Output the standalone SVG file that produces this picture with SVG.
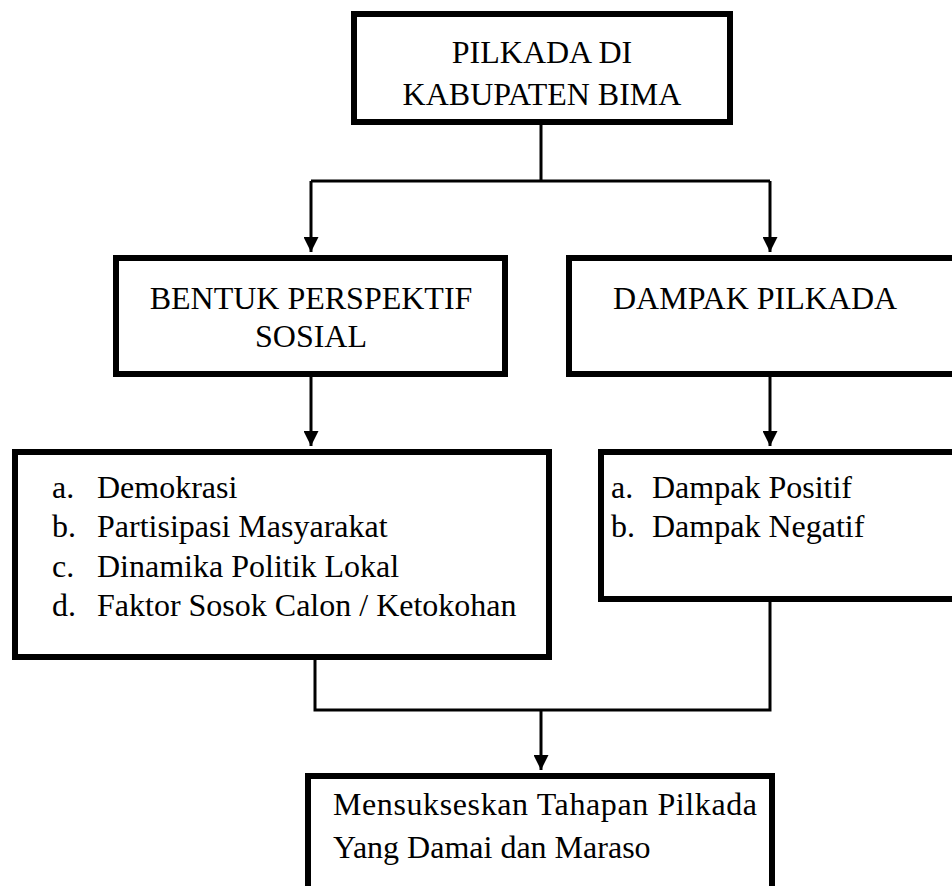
<svg xmlns="http://www.w3.org/2000/svg" width="952" height="886" viewBox="0 0 952 886">
<defs>
<style>
.box{fill:#fff;stroke:#000;stroke-width:6}
.t{font-family:"Liberation Serif","Times New Roman",serif;font-size:32px;fill:#000}
.c{text-anchor:middle}
.ln{fill:none;stroke:#000;stroke-width:3}
</style>
<marker id="ah" markerWidth="5" markerHeight="5" refX="5" refY="2.5" orient="auto" markerUnits="strokeWidth">
<path d="M0,0 L5,2.5 L0,5 Z" fill="#000"/>
</marker>
</defs>
<rect width="952" height="886" fill="#fff"/>
<g id="connectors">
<path class="ln" d="M541,125 V181 M311,181 H770"/>
<path class="ln" d="M311,181 V252" marker-end="url(#ah)"/>
<path class="ln" d="M770,181 V252" marker-end="url(#ah)"/>
<path class="ln" d="M311,376 V446" marker-end="url(#ah)"/>
<path class="ln" d="M770,377 V446" marker-end="url(#ah)"/>
<path class="ln" d="M315,660 V710 H770 V602"/>
<path class="ln" d="M541,710 V770" marker-end="url(#ah)"/>
</g>
<g id="n1">
<rect class="box" x="354" y="14" width="376" height="108"/>
<text class="t c" x="542" y="63">PILKADA DI</text>
<text class="t c" x="542" y="105">KABUPATEN BIMA</text>
</g>
<g id="n2">
<rect class="box" x="116" y="258" width="389" height="116"/>
<text class="t c" x="311" y="309">BENTUK PERSPEKTIF</text>
<text class="t c" x="311" y="347">SOSIAL</text>
</g>
<g id="n3">
<rect class="box" x="569" y="258" width="400" height="116"/>
<text class="t" x="613" y="309">DAMPAK PILKADA</text>
</g>
<g id="n4">
<rect class="box" x="15" y="452" width="534" height="205"/>
<text class="t" x="52" y="498">a.</text><text class="t" x="97" y="498">Demokrasi</text>
<text class="t" x="52" y="537">b.</text><text class="t" x="97" y="537">Partisipasi Masyarakat</text>
<text class="t" x="52" y="577">c.</text><text class="t" x="97" y="577">Dinamika Politik Lokal</text>
<text class="t" x="52" y="616">d.</text><text class="t" x="97" y="616">Faktor Sosok Calon / Ketokohan</text>
</g>
<g id="n5">
<rect class="box" x="601" y="452" width="370" height="147"/>
<text class="t" x="611" y="498">a.</text><text class="t" x="652" y="498">Dampak Positif</text>
<text class="t" x="611" y="537">b.</text><text class="t" x="652" y="537">Dampak Negatif</text>
</g>
<g id="n6">
<rect class="box" x="308" y="776" width="464" height="130"/>
<text class="t" x="333" y="815" textLength="424" lengthAdjust="spacing">Mensukseskan Tahapan Pilkada</text>
<text class="t" x="333" y="858">Yang Damai dan Maraso</text>
</g>
</svg>
